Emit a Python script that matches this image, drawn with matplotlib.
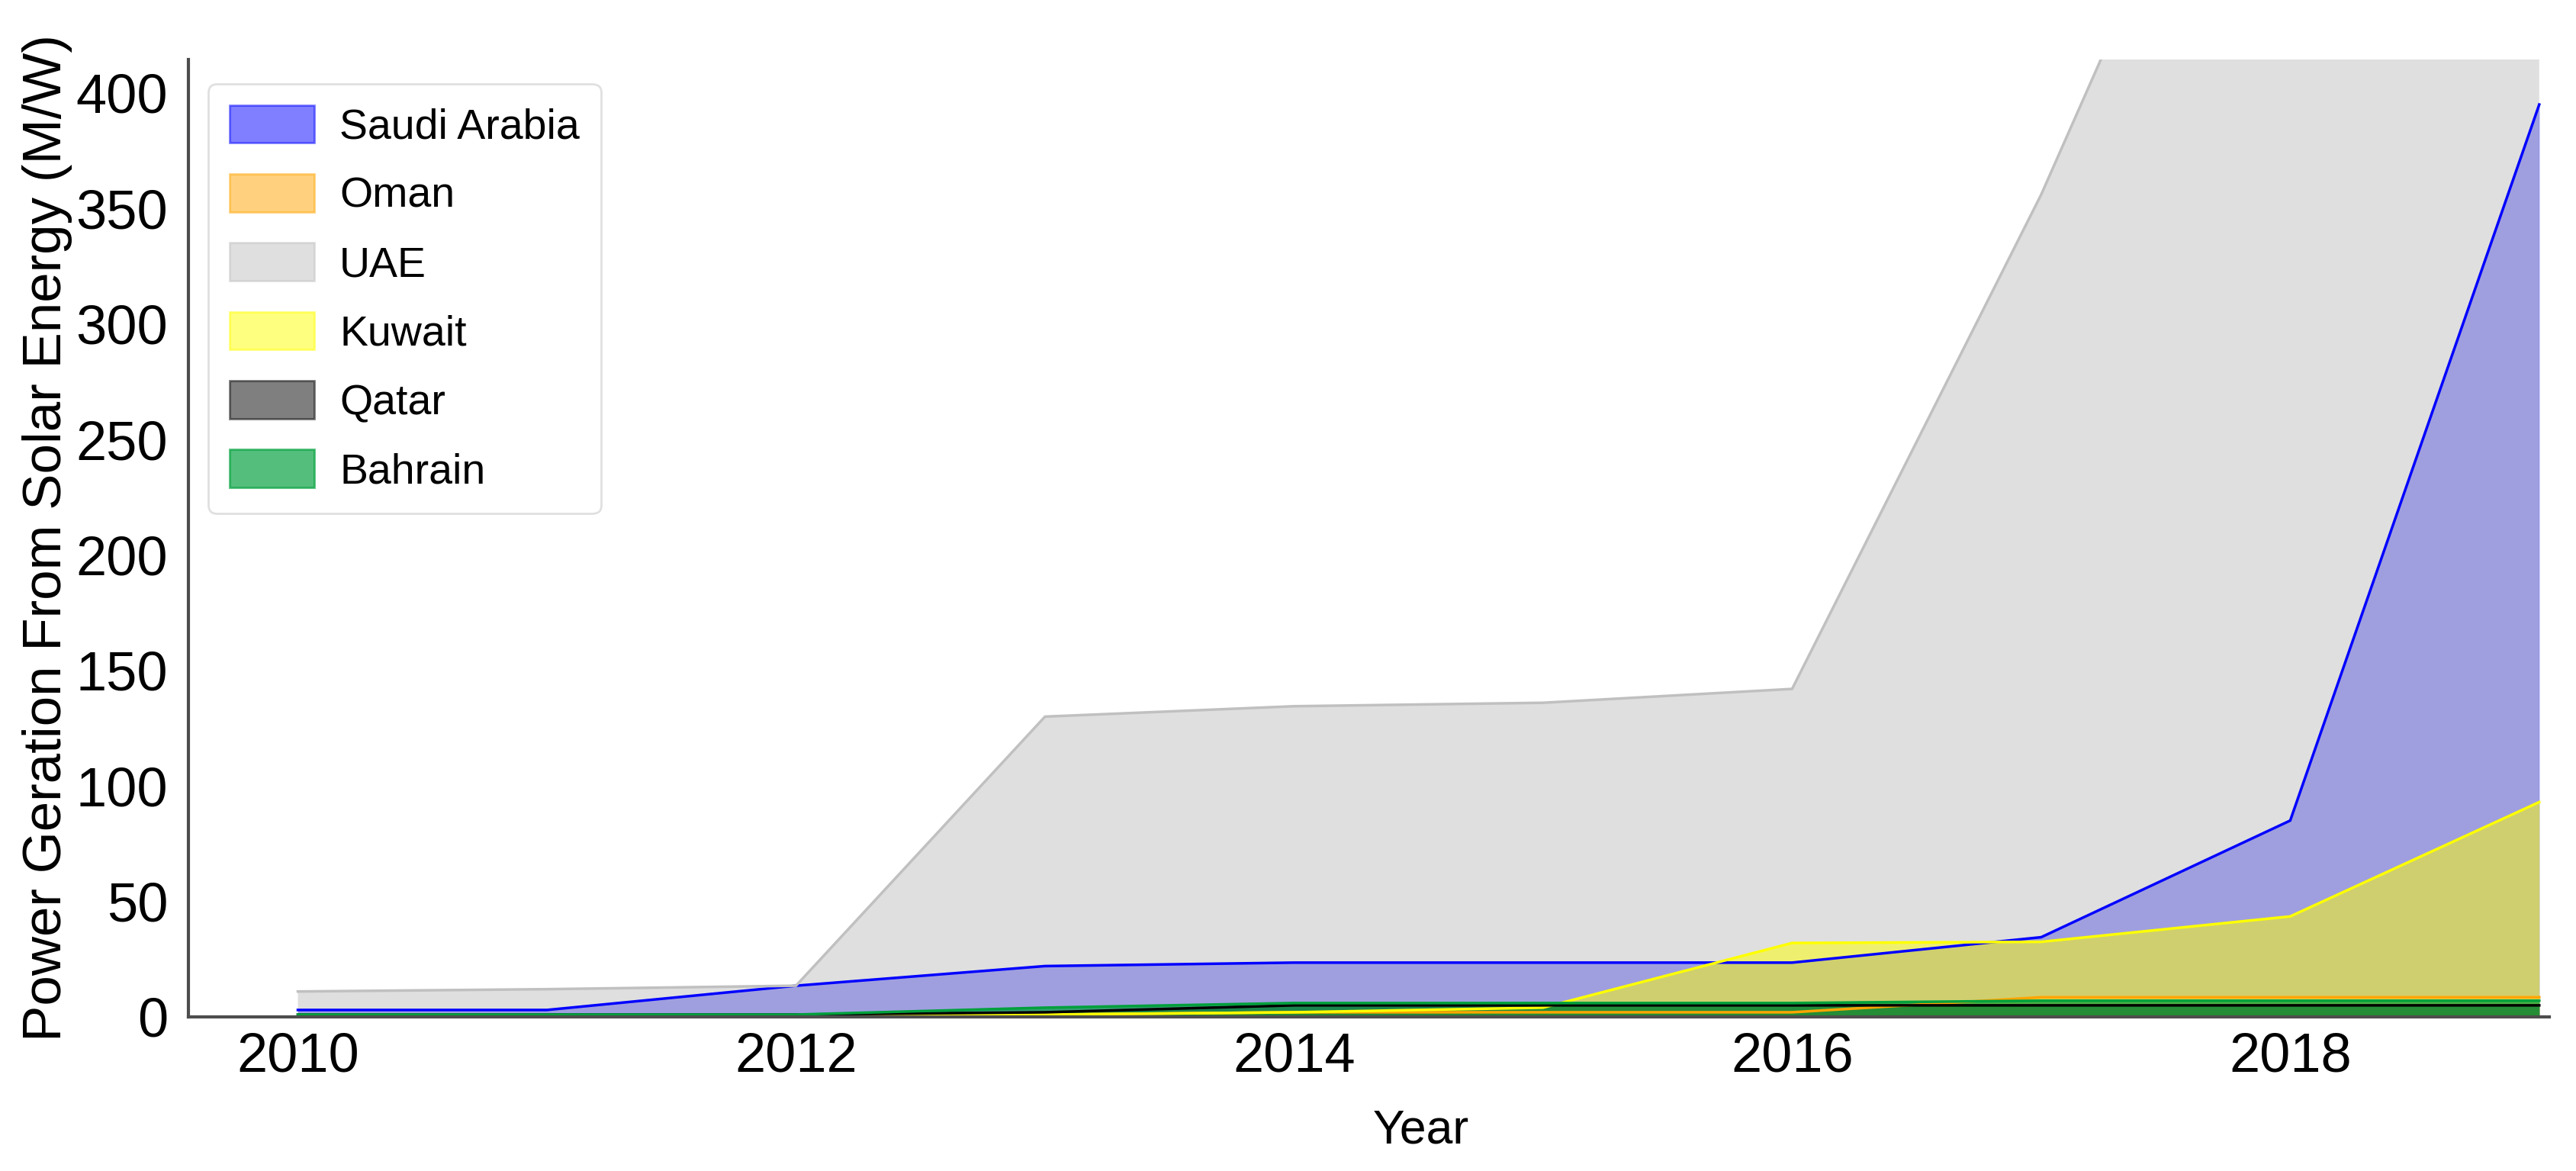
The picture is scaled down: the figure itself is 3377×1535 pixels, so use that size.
import matplotlib
matplotlib.use('Agg')
import matplotlib.pyplot as plt
import matplotlib.patches as mpatches

plt.rcParams['font.family'] = ['Liberation Sans', 'DejaVu Sans']

# data (MW)
years = [2010, 2011, 2012, 2013, 2014, 2015, 2016, 2017, 2018, 2019]
saudi = [3, 3, 13.5, 22, 23.5, 23.5, 23.5, 34.5, 85, 395]
oman = [0, 0, 0, 1, 2, 2, 2, 8.5, 8.5, 8.5]
uae = [11, 12, 13.5, 130, 134.5, 136, 142, 356, 600, 1500]
kuwait = [0, 0, 0, 1, 2, 4, 32, 32.5, 43.5, 93]
qatar = [1, 1, 1, 2, 5, 5, 5, 5, 5, 5]
bahrain = [1, 1, 1, 4, 6, 6, 6, 7, 7, 7]

names = ['Saudi Arabia', 'Oman', 'UAE', 'Kuwait', 'Qatar', 'Bahrain']
series = [saudi, oman, uae, kuwait, qatar, bahrain]
colors = ['blue', 'orange', 'silver', 'yellow', 'black', '#00a03c']
alphas = [0.5, 0.5, 0.5, 0.5, 0.5, 0.67]

fig = plt.figure(figsize=(33.77, 15.35), dpi=100)
ax = fig.add_axes([0.0731, 0.1316, 0.9165, 0.8176])

handles = []
for name, vals, c, a in zip(names, series, colors, alphas):
    ax.plot(years, vals, color=c, lw=2.5)
    ax.fill_between(years, 0, vals, color=c, alpha=a, lw=0)
    handles.append(mpatches.Patch(facecolor=c, edgecolor=c, alpha=a, lw=2, label=name))

ax.set_xlim(2009.56, 2019.04)
ax.set_ylim(0, 414.5)
ax.set_xticks([2010, 2012, 2014, 2016, 2018])
ax.set_yticks(range(0, 401, 50))
ax.tick_params(axis='both', length=0, labelsize=52)
ax.tick_params(axis='x', pad=14)
ax.tick_params(axis='y', pad=19)

for s in ['top', 'right']:
    ax.spines[s].set_visible(False)
for s in ['left', 'bottom']:
    ax.spines[s].set_linewidth(3)
    ax.spines[s].set_color('0.3')

ax.set_xlabel('Year', fontsize=45)
ax.set_ylabel('Power Geration From Solar Energy (M/W)', fontsize=51)
ax.xaxis.set_label_coords(0.522, -0.095)
ax.yaxis.set_label_coords(-0.049, 0.5)

leg = ax.legend(handles=handles, loc='upper left', bbox_to_anchor=(0.0084, 0.9745),
                borderaxespad=0, fontsize=40, frameon=True, fancybox=True,
                handleheight=1.0, labelspacing=0.62, borderpad=0.5, handletextpad=0.6)
leg.get_frame().set_edgecolor('0.85')
leg.get_frame().set_linewidth(2)

plt.savefig('out.png', dpi=100)
